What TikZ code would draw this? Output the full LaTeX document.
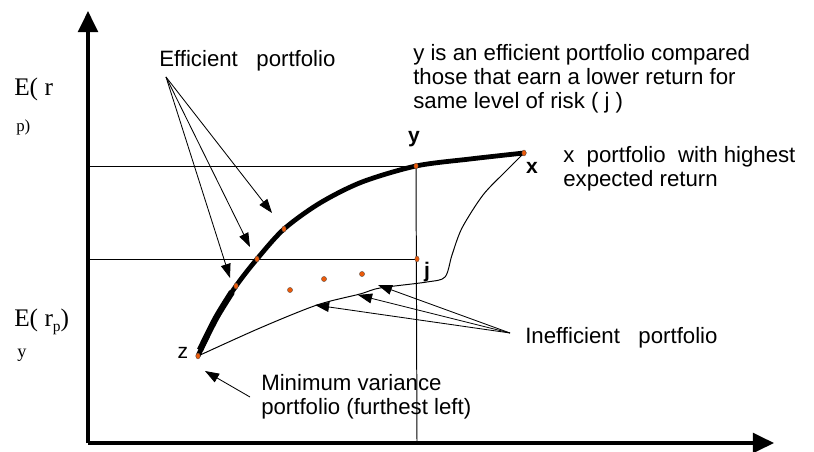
\documentclass[tikz,border=0pt]{standalone}
\usepackage{fontspec}
\setmainfont{Liberation Sans}
\newfontfamily\axisfont{Liberation Serif}
\usetikzlibrary{arrows.meta}
\definecolor{dotcolour}{RGB}{235,90,10}

\begin{document}
\begin{tikzpicture}[x=0.025cm,y=-0.025cm,
  lbl/.style={font=\fontsize{15.8}{17}\selectfont,inner sep=0pt,align=left},
  ptlbl/.style={font=\fontsize{15}{15}\selectfont\bfseries,inner sep=0pt},
  axlbl/.style={font=\axisfont\fontsize{18}{18}\selectfont,inner sep=0pt,anchor=west},
  ptr/.style={-{Triangle[length=10pt,width=7pt]},line width=0.6pt},
  pt/.style={fill=dotcolour,draw=black!70,line width=0.2pt}]
  \useasboundingbox (0,0) rectangle (814,452);
  \coordinate (o) at (88,443);
  \coordinate (ytop) at (88,11);
  \coordinate (xend) at (774,443);
  \coordinate (z) at (198,356);
  \coordinate (e1) at (236,286);
  \coordinate (e2) at (257,259);
  \coordinate (e3) at (284,229);
  \coordinate (y) at (416,166);
  \coordinate (x) at (524,153);
  \coordinate (j) at (417,259);
  \draw[line width=2.6pt,-{Triangle[length=15pt,width=14pt]}] (o) -- (ytop);
  \draw[line width=2.6pt,-{Triangle[length=15pt,width=14pt]}] (o) -- (xend);
  \draw[line width=0.7pt] (88,166) -- (y);
  \draw[line width=0.7pt] (88,259) -- (j);
  \draw[line width=0.7pt] (y) -- (417,443);
  \draw[line width=3.4pt,line cap=round] plot[smooth] coordinates
    {(z) (216,318) (e1) (e2) (e3) (320,203) (362,182) (y) (470,159) (x)};
  \draw[line width=4.5pt] plot[smooth] coordinates {(200,350) (216,318) (232,292)};
  \draw[line width=0.7pt] plot[smooth,tension=0.5] coordinates
    {(z) (260,328) (317,305) (360,294) (380,288) (427,282) (445,277)
     (452,255) (462,228) (483,195) (505,172) (x)};
  \foreach \p in {z,e1,e2,e3,y,x,j}{
    \fill[pt] (\p) ellipse (2.2 and 3);
  }
  \foreach \q in {(290,290),(324,279),(362,274)}{
    \fill[pt] \q ellipse (2.6 and 2.6);
  }
  \node[ptlbl] (ylbl) at (414,139) {y};
  \node[ptlbl] (xlbl) at (532,168) {x};
  \node[ptlbl] (jlbl) at (427,272) {j};
  \node[ptlbl,font=\fontsize{15}{15}\selectfont] (zlbl) at (183,353) {z};
  \node[axlbl] (er1) at (14,89) {E( r};
  \node[axlbl,font=\axisfont\fontsize{12}{12}\selectfont] (er2) at (16,127) {p)};
  \node[axlbl] (er3) at (14,322) {E( r\raisebox{-4pt}{\fontsize{11}{11}\selectfont p})};
  \node[axlbl,font=\axisfont\fontsize{13}{13}\selectfont] (er4) at (17,355) {y};
  \node[lbl,anchor=west] (eff) at (159,61) {Efficient\ \ \ portfolio};
  \node[lbl,anchor=north west] (note) at (413,44)
    {y is an efficient portfolio compared\\those that earn a lower return for\\same level of risk ( j )};
  \node[lbl,anchor=north west] (xnote) at (563,146) {x\ \ portfolio\ \ with highest\\expected return};
  \node[lbl,anchor=west] (ineff) at (525,338) {Inefficient\ \ \ portfolio};
  \node[lbl,anchor=north west] (minvar) at (261,374) {Minimum variance\\portfolio (furthest left)};
  \coordinate (effroot) at (166,77);
  \coordinate (ta) at (272,213);
  \coordinate (tb) at (250,247);
  \coordinate (tc) at (230,278);
  \draw[ptr] (effroot) -- (ta);
  \draw[ptr] (effroot) -- (tb);
  \draw[ptr] (effroot) -- (tc);
  \coordinate (ineffroot) at (510,333);
  \coordinate (ia) at (378,285);
  \coordinate (ib) at (358,295);
  \coordinate (ic) at (315,305);
  \draw[ptr] (ineffroot) -- (ia);
  \draw[ptr] (ineffroot) -- (ib);
  \draw[ptr] (ineffroot) -- (ic);
  \coordinate (minroot) at (250,397);
  \coordinate (mintip) at (205,371);
  \draw[ptr] (minroot) -- (mintip);
\end{tikzpicture}
\end{document}
